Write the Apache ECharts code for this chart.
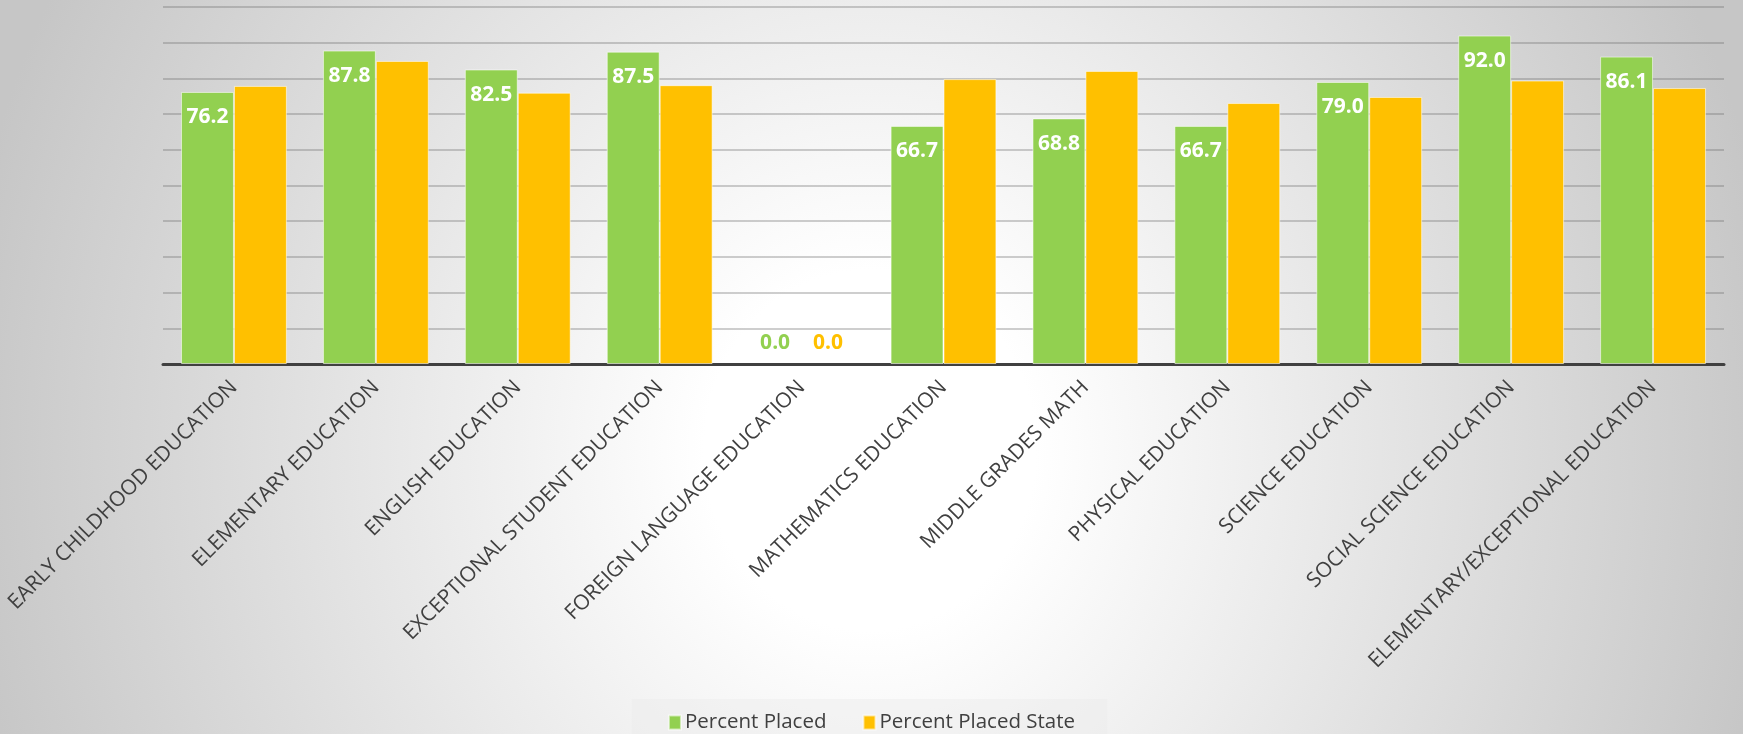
<!DOCTYPE html>
<html>
<head>
<meta charset="utf-8">
<script src="https://cdn.jsdelivr.net/npm/echarts@6/dist/echarts.min.js"></script>
<style>
html,body{margin:0;padding:0;width:1743px;height:734px;overflow:hidden;
background: radial-gradient(ellipse 920px 1000px at 870px 450px, #ffffff 0%, #ffffff 18%, #c6c6c6 100%);}
#chart{width:1743px;height:734px;}
</style>
</head>
<body>
<div id="chart"></div>
<script>
const categories = [
  "EARLY CHILDHOOD EDUCATION",
  "ELEMENTARY EDUCATION",
  "ENGLISH EDUCATION",
  "EXCEPTIONAL STUDENT EDUCATION",
  "FOREIGN LANGUAGE EDUCATION",
  "MATHEMATICS EDUCATION",
  "MIDDLE GRADES MATH",
  "PHYSICAL EDUCATION",
  "SCIENCE EDUCATION",
  "SOCIAL SCIENCE EDUCATION",
  "ELEMENTARY/EXCEPTIONAL EDUCATION"
];
const percentPlaced = [76.2, 87.8, 82.5, 87.5, 0.0, 66.7, 68.8, 66.7, 79.0, 92.0, 86.1];
const percentPlacedState = [77.9, 84.9, 76.0, 78.1, 0.0, 79.8, 82.1, 73.1, 74.8, 79.4, 77.3];
const seriesNames = ["Percent Placed", "Percent Placed State"];

const GREEN = "#92d050", ORANGE = "#ffc000";
const FONT = "Open Sans";

function greenData(vals) {
  return vals.map(v => v === 0 ? {
    value: v,
    itemStyle: { borderWidth: 0 },
    label: { position: "top", color: GREEN, distance: 10 }
  } : v);
}
function orangeData(vals) {
  return vals.map(v => v === 0 ? {
    value: v,
    itemStyle: { borderWidth: 0 },
    label: { show: true, position: "top", color: ORANGE, distance: 10 }
  } : v);
}

const chart = echarts.init(document.getElementById("chart"), null, {renderer: "canvas"});
chart.setOption({
  backgroundColor: "transparent",
  animation: false,
  textStyle: { fontFamily: FONT },
  grid: { left: 163, right: 19, top: 7, bottom: 370, containLabel: false },
  legend: {
    data: seriesNames,
    left: "center",
    top: 699,
    padding: [13, 32, 12, 36],
    backgroundColor: "rgba(235,235,235,0.45)",
    itemWidth: 12,
    itemHeight: 14,
    itemGap: 36,
    icon: "rect",
    textStyle: { color: "#404040", fontSize: 20.5, fontFamily: FONT, padding: [0, 0, 0, -1] }
  },
  xAxis: {
    type: "category",
    data: categories,
    axisLine: { show: true, lineStyle: { color: "#404040", width: 3 } },
    axisTick: { show: false },
    axisLabel: {
      rotate: 45,
      interval: 0,
      margin: 20,
      color: "#404040",
      fontSize: 21,
      fontFamily: FONT
    }
  },
  yAxis: {
    type: "value",
    min: 0, max: 100, interval: 10,
    axisLabel: { show: false },
    axisLine: { show: false },
    axisTick: { show: false },
    splitLine: { show: true, lineStyle: { color: "rgba(110,110,110,0.45)", width: 1.5 } }
  },
  series: [
    {
      name: seriesNames[0],
      type: "bar",
      data: greenData(percentPlaced),
      barWidth: "37.3%",
      barGap: "0%",
      itemStyle: { color: GREEN, borderColor: "rgba(255,255,255,0.55)", borderWidth: 1 },
      label: {
        show: true,
        position: "insideTop",
        distance: 15,
        color: "#ffffff",
        fontSize: 21,
        fontWeight: "bold",
        fontFamily: FONT,
        formatter: p => Number(p.value).toFixed(1)
      }
    },
    {
      name: seriesNames[1],
      type: "bar",
      data: orangeData(percentPlacedState),
      barWidth: "37.3%",
      barGap: "0%",
      itemStyle: { color: ORANGE, borderColor: "rgba(255,255,255,0.55)", borderWidth: 1 },
      label: {
        show: false,
        position: "top",
        color: ORANGE,
        fontSize: 21,
        fontWeight: "bold",
        fontFamily: FONT,
        formatter: p => Number(p.value).toFixed(1)
      }
    }
  ]
});
</script>
</body>
</html>
